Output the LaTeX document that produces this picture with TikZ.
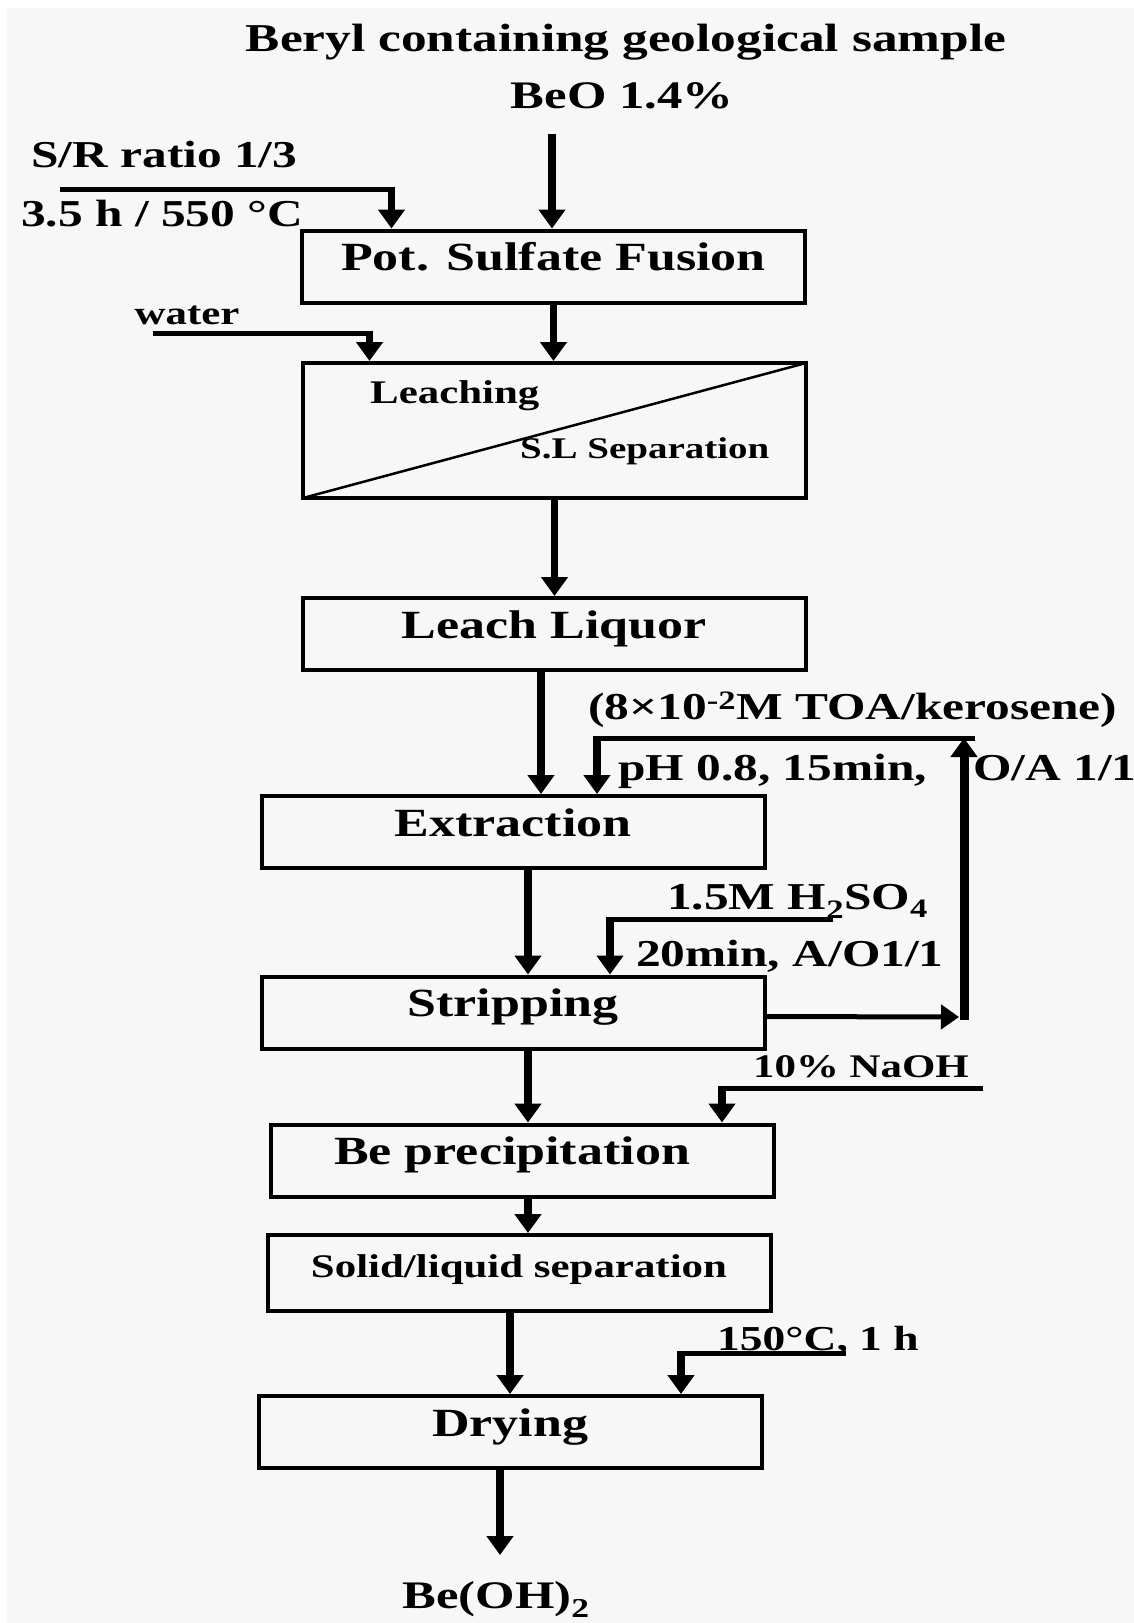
\documentclass[tikz,border=0pt]{standalone}
\usepackage{fontspec}
\setmainfont{Liberation Serif}[FakeStretch=1.3]
\usetikzlibrary{arrows.meta,calc}
\definecolor{paper}{HTML}{F7F7F7}
\tikzset{
  unit/.style={draw, line width=4pt, minimum width=503pt, minimum height=72pt, inner sep=0pt,
    text height=30pt, text depth=22pt, font=\fontsize{40}{44}\selectfont\bfseries},
  flow/.style={line width=7.5pt, -{Triangle[width=26pt,length=19pt]}},
  feed/.style={line width=5pt},
  lbl/.style={inner sep=0pt, font=\fontsize{38}{42}\selectfont\bfseries},
  small/.style={font=\fontsize{33}{36}\selectfont\bfseries}
}

\begin{document}
\begin{tikzpicture}[x=1pt,y=-1pt]
    \useasboundingbox (0,0) rectangle (1134,1623);
    \fill [paper] (7,8) rectangle (1134,1623);
    % feed material
    \node [lbl, font=\fontsize{39.5}{42}\selectfont\bfseries, anchor=base] (title) at (626,51) {Beryl containing geological sample};
    \node [lbl, font=\fontsize{39}{42}\selectfont\bfseries, anchor=base] (beo) at (622,108) {BeO 1.4\%};
    % process units
    \node [unit] (fusion) at (553.5,266.5) {Pot. Sulfate Fusion};
    \node [unit, minimum height=135pt] (leach) at (554.5,430.5) {};
    \node [unit] (liquor) at (554,634) {Leach Liquor};
    \node [unit] (extract) at (513,832) {Extraction};
    \node [unit] (strip) at (513,1012.5) {Stripping};
    \node [unit] (precip) at (522,1160.5) {Be precipitation\kern20pt};
    \node [unit, small, minimum height=76pt] (sepbox) at (519,1273) {Solid/liquid separation};
    \node [unit] (dry) at (510,1432) {Drying};
    \draw [line width=2.5pt] ([shift={(2,-2)}]leach.south west) -- ([shift={(-2,2)}]leach.north east);
    \node [lbl, small, anchor=base west] (leaching) at (370,403) {Leaching};
    \node [lbl, font=\fontsize{30}{34}\selectfont\bfseries, anchor=base west] (slsep) at (520,458) {S.L Separation};
    % main line
    \coordinate (top) at (552,134);
    \coordinate (out) at (500,1555);
    \draw [flow] (top) -- (fusion.north -| top);
    \draw [flow] (fusion.south) -- (fusion.south |- leach.north);
    \draw [flow] (leach.south) -- (leach.south |- liquor.north);
    \draw [flow] ([xshift=-13pt]liquor.south) -- ([xshift=-13pt]liquor.south |- extract.north);
    \draw [flow] ([xshift=15pt]extract.south) -- ([xshift=15pt]extract.south |- strip.north);
    \draw [flow] ([xshift=15pt]strip.south) -- ([xshift=15pt]strip.south |- precip.north);
    \draw [flow] ([xshift=6pt]precip.south) -- ([xshift=6pt]precip.south |- sepbox.north);
    \draw [flow] ([xshift=-9pt]sepbox.south) -- ([xshift=-9pt]sepbox.south |- dry.north);
    \draw [flow] ([xshift=-10pt]dry.south) -- (out);
    \node [lbl, font=\fontsize{39}{42}\selectfont\bfseries, anchor=base] (product) at (496,1608) {Be(OH)\textsubscript{2}};
    % side inputs
    \coordinate (sr) at (60,189);
    \coordinate (srin) at ([xshift=-162pt]fusion.north);
    \draw [feed] (sr) -- (sr -| srin);
    \draw [flow] ([yshift=2.5pt]sr -| srin) -- (srin);
    \node [lbl, anchor=base west] (ratio) at (31,167) {S/R ratio 1/3};
    \node [lbl, anchor=base west] (temp) at (21,226) {3.5 h / 550 °C};
    \coordinate (wat) at (153,333);
    \coordinate (watin) at ([xshift=-185pt]leach.north);
    \draw [feed] (wat) -- (wat -| watin);
    \draw [flow] ([yshift=2.5pt]wat -| watin) -- (watin);
    \node [lbl, small, anchor=base west] (water) at (134.5,324) {water};
    \coordinate (toa) at (975,738);
    \coordinate (toain) at ([xshift=84pt]extract.north);
    \draw [feed] (toa) -- (toa -| toain);
    \draw [flow] ([yshift=2.5pt]toa -| toain) -- (toain);
    \node [lbl, anchor=base west] (org) at (588,719) {(8×10\textsuperscript{-2}M TOA/kerosene)};
    \node [lbl, anchor=base west] (ph) at (618,780) {pH 0.8, 15min,};
    \node [lbl, anchor=base west] (oa) at (973,780) {O/A 1/1};
    % recycle of organic phase
    \coordinate (ret) at (964,1017);
    \draw [feed, -{Triangle[width=24pt,length=18pt]}] ([yshift=-4pt]strip.east) -- ([xshift=-5pt]ret);
    \draw [flow, line width=9pt] ([yshift=-3pt]ret) -- (ret |- toa);
    \coordinate (acid) at (833,919);
    \coordinate (acidin) at ([xshift=97pt]strip.north);
    \draw [feed] (acid) -- (acid -| acidin);
    \draw [flow] ([yshift=2.5pt]acid -| acidin) -- (acidin);
    \node [lbl, anchor=base west] (h2so4) at (667,909) {1.5M H\textsubscript{2}SO\textsubscript{4}};
    \node [lbl, anchor=base west] (time) at (636,966) {20min, A/O1/1};
    \coordinate (soda) at (983,1088);
    \coordinate (sodain) at ([xshift=200pt]precip.north);
    \draw [feed] (soda) -- (soda -| sodain);
    \draw [flow] ([yshift=2.5pt]soda -| sodain) -- (sodain);
    \node [lbl, small, anchor=base west] (naoh) at (753,1077) {10\% NaOH};
    \coordinate (heat) at (846,1353);
    \coordinate (heatin) at ([xshift=171pt]dry.north);
    \draw [feed] (heat) -- (heat -| heatin);
    \draw [flow] ([yshift=2.5pt]heat -| heatin) -- (heatin);
    \node [lbl, font=\fontsize{35}{38}\selectfont\bfseries, anchor=base west] (cond) at (717,1350) {150°C, 1 h};
\end{tikzpicture}
\end{document}
